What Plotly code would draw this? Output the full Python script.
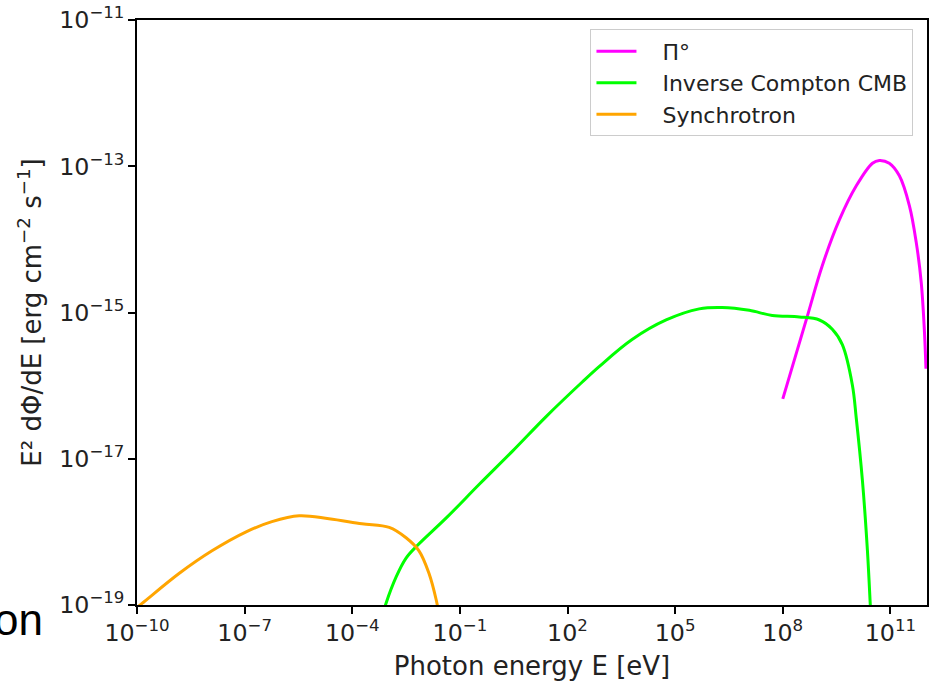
import plotly.graph_objects as go

# Photon energy [eV] and E^2 dPhi/dE [erg cm^-2 s^-1] for each emission component
sync_E = [1.0e-10, 1.38e-10, 1.48e-9, 1.23e-8, 1.10e-7, 5.75e-7, 3.31e-6, 2.24e-5,
          1.86e-4, 1.07e-3, 3.16e-3, 7.24e-3, 1.38e-2, 2.19e-2, 2.51e-2]
sync_F = [9.3e-20, 1.05e-19, 2.69e-19, 5.5e-19, 1.0e-18, 1.38e-18, 1.66e-18, 1.51e-18,
          1.29e-18, 1.15e-18, 8.3e-19, 5.5e-19, 2.69e-19, 1.17e-19, 8.3e-20]

ic_E = [7.9e-4, 8.7e-4, 1.66e-3, 3.16e-3, 6.5e-3, 4.17e-2, 0.347, 2.88, 25.7, 257.0,
        759.0, 6.3e3, 5.6e4, 4.68e5, 2.04e6, 1.17e7, 5.1e7, 2.88e8, 1.05e9, 2.40e9,
        4.57e9, 8.7e9, 1.12e10, 1.66e10, 2.29e10, 2.75e10, 2.88e10]
ic_F = [8.9e-20, 1.05e-19, 2.40e-19, 4.37e-19, 6.5e-19, 1.55e-18, 4.47e-18, 1.26e-17,
        3.8e-17, 1.12e-16, 1.82e-16, 4.27e-16, 7.9e-16, 1.12e-15, 1.17e-15, 1.07e-15,
        9.1e-16, 8.7e-16, 7.9e-16, 5.9e-16, 3.63e-16, 1.02e-16, 3.55e-17, 5.0e-18,
        5.5e-19, 1.0e-19, 6.3e-20]

pi0_E = [1.0e8, 4.57e8, 1.26e9, 3.80e9, 1.12e10, 3.16e10, 4.9e10, 9.3e10, 1.78e11,
         3.39e11, 5.25e11, 7.24e11, 8.9e11, 9.8e11]
pi0_F = [6.6e-17, 8.1e-16, 4.37e-15, 1.86e-14, 5.4e-14, 1.10e-13, 1.20e-13, 1.10e-13,
         7.4e-14, 2.88e-14, 9.1e-15, 2.57e-15, 5.4e-16, 1.70e-16]

FONT = "DejaVu Sans"
PAD = "\u00a0\u00a0\u00a0"

fig = go.Figure()
fig.add_trace(go.Scatter(x=pi0_E, y=pi0_F, mode="lines", name=PAD + "Π°",
                         line=dict(color="#ff00ff", width=3, shape="spline", smoothing=1.0)))
fig.add_trace(go.Scatter(x=ic_E, y=ic_F, mode="lines", name=PAD + "Inverse Compton CMB",
                         line=dict(color="#00ff00", width=3, shape="spline", smoothing=1.0)))
fig.add_trace(go.Scatter(x=sync_E, y=sync_F, mode="lines", name=PAD + "Synchrotron",
                         line=dict(color="#ffa500", width=3, shape="spline", smoothing=1.0)))

axis_common = dict(
    type="log", showgrid=False, zeroline=False,
    showline=True, linecolor="black", linewidth=1.5, mirror=True,
    ticks="outside", ticklen=7, tickwidth=1.5, tickcolor="black",
    exponentformat="power", showexponent="all", ticklabeloverflow="allow",
    tickfont=dict(family=FONT, size=19, color="#222"),
)

fig.update_xaxes(**axis_common, range=[-10.0005, 12.02], dtick=3, tick0=-10,
                 title=dict(text="Photon energy E [eV]",
                            font=dict(family=FONT, size=26, color="#222"), standoff=12))
fig.update_yaxes(**axis_common, range=[-19.0005, -10.9995], dtick=2, tick0=-19,
                 title=dict(text="E² dΦ/dE [erg cm<sup>−2</sup> s<sup>−1</sup>]",
                            font=dict(family=FONT, size=26, color="#222"), standoff=10))

fig.add_annotation(text="on", xref="paper", yref="paper", x=-0.116, y=-0.024,
                   xanchor="right", yanchor="middle", showarrow=False,
                   font=dict(family="Liberation Sans", size=44, color="black"))

fig.update_layout(
    width=932, height=681,
    margin=dict(l=137, r=3, t=15, b=76),
    paper_bgcolor="white", plot_bgcolor="white",
    showlegend=True,
    legend=dict(x=0.574, y=0.984, xanchor="left", yanchor="top",
                bgcolor="rgba(255,255,255,0.8)", bordercolor="#cccccc", borderwidth=1,
                font=dict(family=FONT, size=22, color="#222"),
                itemwidth=40, tracegroupgap=0),
)

fig.write_html("out.html")
